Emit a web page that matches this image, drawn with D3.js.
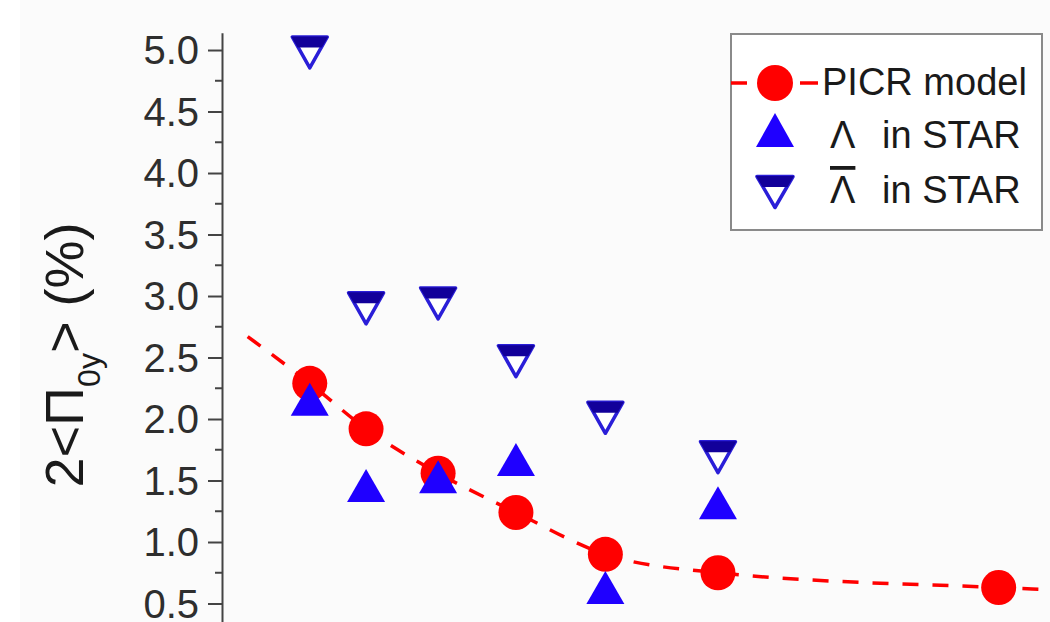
<!DOCTYPE html>
<html>
<head>
<meta charset="utf-8">
<script src="https://cdn.jsdelivr.net/npm/d3@7"></script>
<style>
  body { margin: 0; background: #fff; }
  svg { display: block; font-family: "Liberation Sans", Arial, sans-serif; }
</style>
</head>
<body>
<svg width="1050" height="622"></svg>
<script>
// global polarization 2<Pi_0y> (%) vs collision energy (x axis not shown in the crop)

// x positions in axis units (0..100 across the visible plot)
var starX = [10.6, 17.4, 26.1, 35.5, 46.3, 59.9];
var picrX = [10.6, 17.4, 26.1, 35.5, 46.3, 59.9, 93.8];

var picrY = [2.29, 1.92, 1.56, 1.24, 0.90, 0.75, 0.63];
var lambdaY = [2.16, 1.46, 1.53, 1.67, 0.63, 1.32];
var antiLambdaY = [4.98, 2.90, 2.94, 2.47, 2.01, 1.69];

// dashed model curve, runs past the first and last model points
var curveX = [3.1, 10.6, 17.4, 26.1, 35.5, 46.3, 59.9, 93.8, 101];
var curveY = [2.67, 2.29, 1.92, 1.56, 1.24, 0.90, 0.75, 0.63, 0.61];

var yTicks = [0.5, 1.0, 1.5, 2.0, 2.5, 3.0, 3.5, 4.0, 4.5, 5.0];
var yMinor = [0.75, 1.25, 1.75, 2.25, 2.75, 3.25, 3.75, 4.25, 4.75];

var legendLabels = ["PICR model", "\u039B", "\u039B"];

var svg = d3.select("svg"),
    width = +svg.attr("width"),
    height = +svg.attr("height");

svg.append("rect")
    .attr("x", 20).attr("y", 0)
    .attr("width", width - 20).attr("height", height)
    .attr("fill", "#fbfbfb");

var x = d3.scaleLinear().domain([0, 100]).range([222, 1050]);
var y = d3.scaleLinear().domain([0.2, 5.14]).range([640.4, 32.8]);

var red = "#ff0000",
    blue = "#1f00ff",
    navy = "#12009a",
    outline = "#2a1ed8";

function upTri(w, h) {
  return "M0," + (-h / 2) + "L" + (w / 2) + "," + (h / 2) + "L" + (-w / 2) + "," + (h / 2) + "Z";
}
function downTri(w, h) {
  return "M" + (-w / 2) + "," + (-h / 2) + "L" + (w / 2) + "," + (-h / 2) + "L0," + (h / 2) + "Z";
}
function downBand(w, h, b) {
  var hw = w / 2 * (1 - b / h);
  return "M" + (-w / 2) + "," + (-h / 2) + "L" + (w / 2) + "," + (-h / 2) +
    "L" + hw + "," + (-h / 2 + b) + "L" + (-hw) + "," + (-h / 2 + b) + "Z";
}

// y axis
var yAxis = d3.axisLeft(y)
    .tickValues(yTicks)
    .tickFormat(d3.format(".1f"))
    .tickSize(14)
    .tickSizeOuter(0)
    .tickPadding(9);

var ga = svg.append("g")
    .attr("transform", "translate(" + x(0) + ",0)")
    .call(yAxis);
ga.select(".domain").attr("stroke", "#444").attr("stroke-width", 2);
ga.selectAll(".tick line").attr("stroke", "#444").attr("stroke-width", 2);
ga.selectAll(".tick text")
    .attr("fill", "#2e2e2e")
    .style("font-size", "40px")
    .attr("dy", "0.34em");

svg.append("g")
    .selectAll("line")
    .data(yMinor)
    .enter().append("line")
      .attr("x1", x(0) - 7).attr("x2", x(0))
      .attr("y1", function(d) { return y(d); })
      .attr("y2", function(d) { return y(d); })
      .attr("stroke", "#444")
      .attr("stroke-width", 2);

// axis title
var title = svg.append("text")
    .attr("transform", "translate(83,355) rotate(-90)")
    .attr("text-anchor", "middle")
    .attr("fill", "#1a1a1a")
    .style("font-size", "54px");
title.append("tspan").text("2<\u03A0");
title.append("tspan").text("0y").style("font-size", "32px").attr("dy", 17);
title.append("tspan").text("> (%)").attr("dy", -17);

// model curve
var line = d3.line()
    .x(function(d) { return x(d[0]); })
    .y(function(d) { return y(d[1]); })
    .curve(d3.curveMonotoneX);

svg.append("path")
    .datum(d3.zip(curveX, curveY))
    .attr("d", line)
    .attr("fill", "none")
    .attr("stroke", red)
    .attr("stroke-width", 3.5)
    .attr("stroke-dasharray", "16,14");

// anti-lambda (down triangles)
var anti = svg.append("g")
    .selectAll("g")
    .data(d3.zip(starX, antiLambdaY))
    .enter().append("g")
      .attr("transform", function(d) { return "translate(" + x(d[0]) + "," + y(d[1]) + ")"; });
anti.append("path")
    .attr("d", downTri(35, 31))
    .attr("fill", "#fff")
    .attr("stroke", outline)
    .attr("stroke-width", 3.5)
    .attr("stroke-linejoin", "round");
anti.append("path")
    .attr("d", downBand(37, 32, 11))
    .attr("fill", navy);

// model points
svg.append("g")
    .selectAll("circle")
    .data(d3.zip(picrX, picrY))
    .enter().append("circle")
      .attr("cx", function(d) { return x(d[0]); })
      .attr("cy", function(d) { return y(d[1]); })
      .attr("r", 17.5)
      .attr("fill", red);

// lambda (up triangles)
svg.append("g")
    .selectAll("path")
    .data(d3.zip(starX, lambdaY))
    .enter().append("path")
      .attr("transform", function(d) { return "translate(" + x(d[0]) + "," + y(d[1]) + ")"; })
      .attr("d", upTri(38, 33))
      .attr("fill", blue);

// legend
var lg = svg.append("g");
lg.append("rect")
    .attr("x", 731).attr("y", 34)
    .attr("width", 311).attr("height", 196)
    .attr("fill", "#fff")
    .attr("stroke", "#8a8a8a")
    .attr("stroke-width", 2);

lg.append("line")
    .attr("x1", 731).attr("x2", 818)
    .attr("y1", 83).attr("y2", 83)
    .attr("stroke", red)
    .attr("stroke-width", 3.5)
    .attr("stroke-dasharray", "16,53,18");
lg.append("circle")
    .attr("cx", 775).attr("cy", 83).attr("r", 18)
    .attr("fill", red);
lg.append("path")
    .attr("transform", "translate(775,130)")
    .attr("d", upTri(38, 34))
    .attr("fill", blue);
var lgAnti = lg.append("g").attr("transform", "translate(775,192)");
lgAnti.append("path")
    .attr("d", downTri(36, 31))
    .attr("fill", "#fff")
    .attr("stroke", outline)
    .attr("stroke-width", 3.5)
    .attr("stroke-linejoin", "round");
lgAnti.append("path")
    .attr("d", downBand(38, 32, 11))
    .attr("fill", navy);

lg.append("text")
    .attr("x", 822).attr("y", 95)
    .attr("fill", "#1a1a1a")
    .style("font-size", "38px")
    .text(legendLabels[0]);

[148, 203].forEach(function(by, i) {
  var t = lg.append("text")
      .attr("y", by)
      .attr("fill", "#1a1a1a")
      .style("font-size", "38px");
  var sym = t.append("tspan").attr("x", 830).text(legendLabels[i + 1]);
  if (i == 1) sym.style("text-decoration", "overline");
  t.append("tspan").attr("x", 882).text("in STAR");
});
</script>
</body>
</html>
